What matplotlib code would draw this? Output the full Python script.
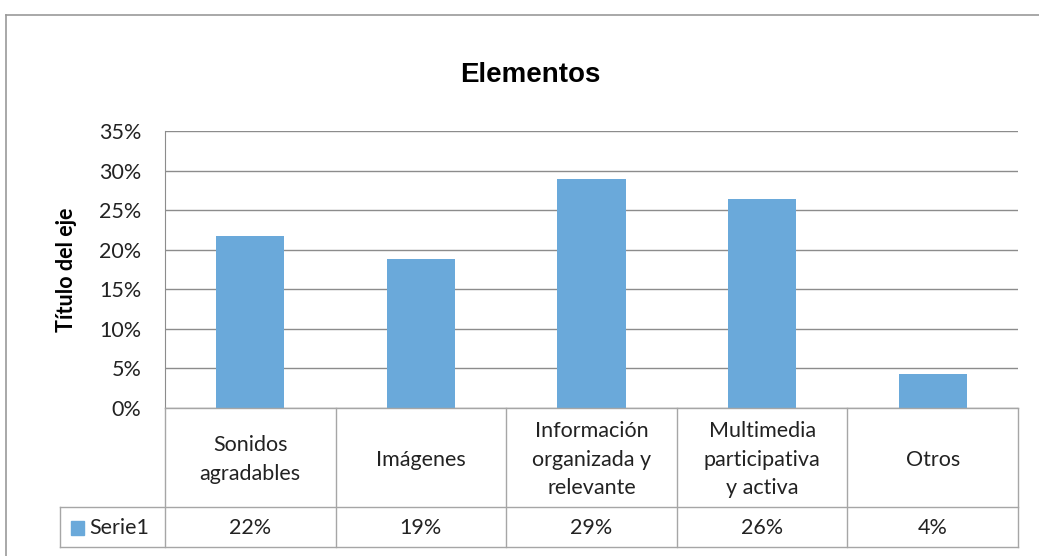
import matplotlib
matplotlib.use("Agg")
import matplotlib.pyplot as plt
from matplotlib.lines import Line2D
from matplotlib.patches import Rectangle
import numpy as np

# data
categories = ["Sonidos\nagradables", "Imágenes", "Información\norganizada y\nrelevante",
              "Multimedia\nparticipativa\ny activa", "Otros"]
values = [0.217, 0.188, 0.289, 0.264, 0.043]
value_labels = ["22%", "19%", "29%", "26%", "4%"]
series_name = "Serie1"
yticks = [0, 0.05, 0.10, 0.15, 0.20, 0.25, 0.30, 0.35]

W, H = 1039, 556
bar_color = "#6aa9da"
grid_color = "#8c8c8c"
line_color = "#a6a6a6"
font = ["Lato", "DejaVu Sans"]
fs = 15.5

fig = plt.figure(figsize=(W / 100, H / 100), dpi=100)

def px(x, y):
    return x / W, 1 - y / H

# plot area in pixels
x0, x1, ytop, ybot = 165, 1018, 131, 408
ax = fig.add_axes([x0 / W, 1 - ybot / H, (x1 - x0) / W, (ybot - ytop) / H])

xpos = np.arange(len(values))
ax.bar(xpos, values, width=0.4, color=bar_color, zorder=3)
ax.set_xlim(-0.5, len(values) - 0.5)
ax.set_ylim(0, 0.35)
ax.set_yticks(yticks)
ax.set_yticklabels(["{}%".format(int(round(t * 100))) for t in yticks],
                   fontsize=fs, family=font, color="#222222")
ax.tick_params(axis="y", length=0, pad=17)
ax.set_xticks([])
ax.yaxis.grid(True, color=grid_color, linewidth=1)
ax.set_axisbelow(True)
for s in ["top", "right", "bottom"]:
    ax.spines[s].set_visible(False)
ax.spines["left"].set_color(grid_color)
ax.set_ylabel("Título del eje", fontsize=fs, fontweight="bold", family=font, labelpad=16)

fig.text(*px(530, 75), "Elementos", ha="center", va="center",
         fontsize=20, fontweight="bold", family=["Liberation Sans", "DejaVu Sans"])

# data table
edges = np.linspace(x0, x1, len(values) + 1)
row_top, row_mid, row_bot, leg_left = 408, 507, 547, 60

def hline(xa, xb, y):
    fig.add_artist(Line2D([xa / W, xb / W], [1 - y / H, 1 - y / H], color=line_color, lw=1))

def vline(x, ya, yb):
    fig.add_artist(Line2D([x / W, x / W], [1 - ya / H, 1 - yb / H], color=line_color, lw=1))

hline(x0, x1, row_top)
hline(leg_left, x1, row_mid)
hline(leg_left, x1, row_bot)
for e in edges:
    vline(e, row_top, row_bot)
vline(leg_left, row_mid, row_bot)

for i, e in enumerate(edges[:-1]):
    cx = (e + edges[i + 1]) / 2
    fig.text(*px(cx, (row_top + row_mid) / 2 + 2), categories[i], ha="center", va="center",
             fontsize=fs, family=font, color="#222222", linespacing=1.55)
    fig.text(*px(cx, (row_mid + row_bot) / 2 + 1), value_labels[i], ha="center", va="center",
             fontsize=fs, family=font, color="#222222")

fig.add_artist(Rectangle(px(71, 535), 13 / W, 14 / H, color=bar_color, transform=fig.transFigure))
fig.text(*px(89, (row_mid + row_bot) / 2 + 1), series_name, ha="left", va="center",
         fontsize=fs, family=font, color="#222222")

# chart border (left and top edges visible)
fig.add_artist(Line2D([6 / W, 6 / W], [0, 1 - 15 / H], color="#999999", lw=1.2))
fig.add_artist(Line2D([6 / W, 1], [1 - 15 / H, 1 - 15 / H], color="#999999", lw=1.2))

fig.savefig("out.png", dpi=100)
